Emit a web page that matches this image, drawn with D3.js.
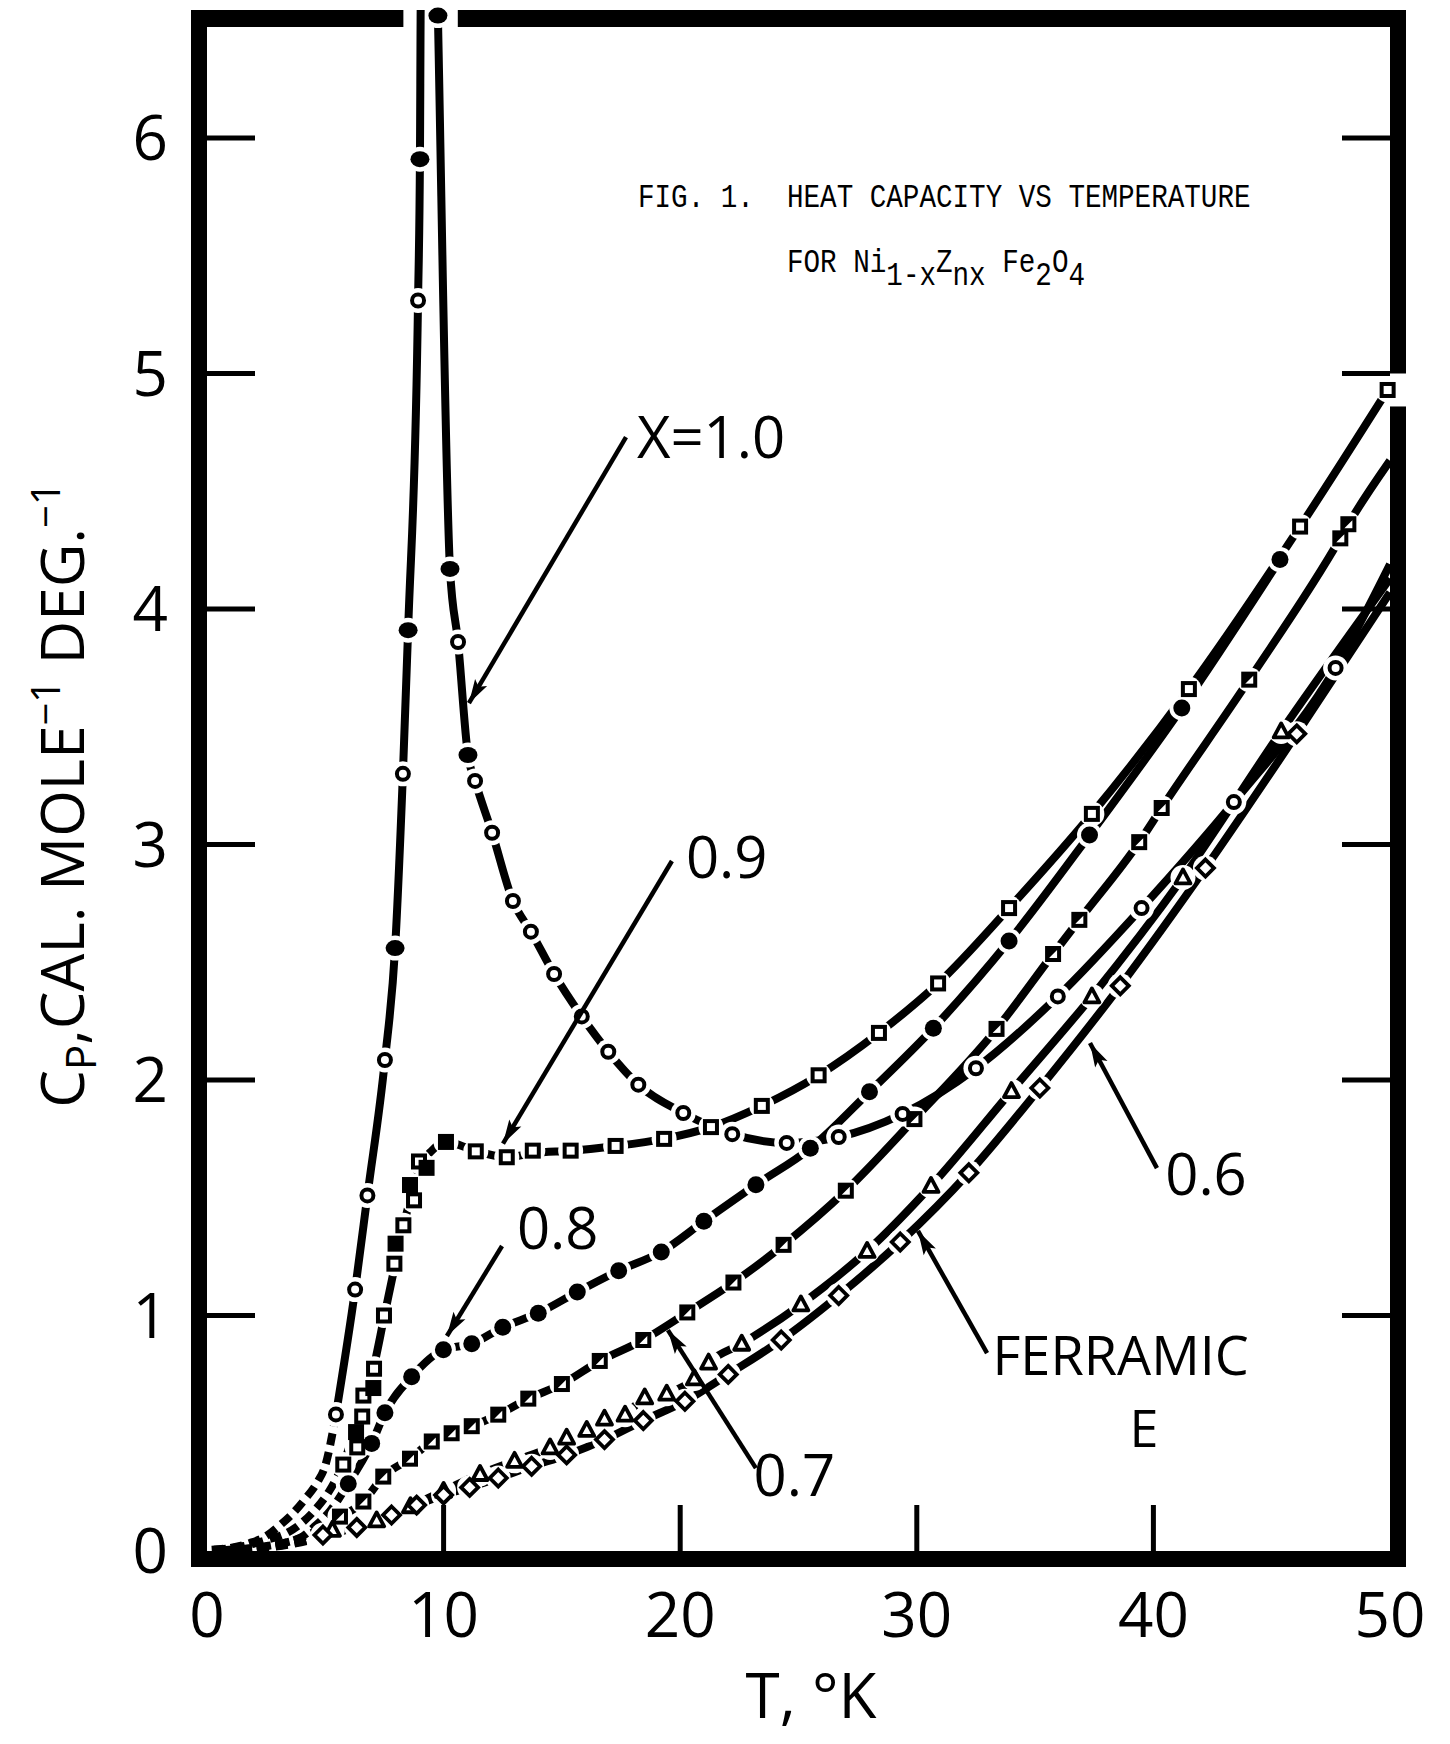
<!DOCTYPE html>
<html>
<head>
<meta charset="utf-8">
<script src="https://cdn.jsdelivr.net/npm/d3@7"></script>
<style>
body { margin: 0; background: #fff; }
svg { display: block; }
</style>
</head>
<body>
<svg width="1450" height="1744"></svg>
<script>
// ---- data (T in K, Cp in cal/mole/deg) ----
// x = 1.0 (circles, 1 = filled)
var x10T  = [5.45, 6.26, 6.78, 7.52, 7.95, 8.28, 8.50, 8.92, 9.00, 9.76, 10.27, 10.61, 11.03, 11.33, 12.05, 12.93, 13.69, 14.67, 15.84, 16.96, 18.23, 20.13, 22.2, 24.5, 26.7, 29.4, 32.5, 35.96, 39.5, 43.4, 47.7];
var x10Cp = [0.58, 1.11, 1.51, 2.085, 2.56, 3.30, 3.91, 5.31, 5.91, 6.52, 4.17, 3.86, 3.38, 3.27, 3.05, 2.76, 2.63, 2.45, 2.27, 2.12, 1.98, 1.86, 1.77, 1.733, 1.758, 1.856, 2.05, 2.355, 2.73, 3.18, 3.75];
var x10Fill = [0, 0, 0, 0, 1, 0, 1, 0, 1, 1, 1, 0, 1, 0, 0, 0, 0, 0, 0, 0, 0, 0, 0, 0, 0, 0, 0, 0, 0, 0, 0];
var x10LineT  = [5.45, 6.26, 6.78, 7.52, 7.95, 8.28, 8.50, 8.92, 9.00, 9.04, 9.74, 9.76, 10.27, 10.61, 11.03, 11.33, 12.05, 12.93, 13.69, 14.67, 15.84, 16.96, 18.23, 20.13, 22.2, 24.5, 26.7, 29.4, 32.5, 35.96, 39.5, 43.4, 47.7, 50];
var x10LineCp = [0.58, 1.11, 1.51, 2.085, 2.56, 3.30, 3.91, 5.31, 5.91, 6.62, 6.62, 6.52, 4.17, 3.86, 3.38, 3.27, 3.05, 2.76, 2.63, 2.45, 2.27, 2.12, 1.98, 1.86, 1.77, 1.733, 1.758, 1.856, 2.05, 2.355, 2.73, 3.18, 3.75, 4.19];
var x10DashT  = [0.2, 0.97, 1.82, 2.45, 3.09, 3.63, 4.14, 4.65, 4.99, 5.45];
var x10DashCp = [0.005, 0.013, 0.034, 0.06, 0.11, 0.16, 0.22, 0.29, 0.36, 0.58];

// x = 0.9 (squares, 1 = filled)
var x09T  = [5.76, 6.30, 6.35, 6.56, 6.61, 7.03, 7.06, 7.48, 7.92, 7.97, 8.30, 8.58, 8.75, 8.96, 9.28, 10.10, 11.36, 12.67, 13.77, 15.37, 17.27, 19.32, 21.3, 23.45, 25.85, 28.4, 30.9, 33.9, 37.4, 41.5, 46.2, 49.9];
var x09Cp = [0.367, 0.505, 0.44, 0.571, 0.66, 0.692, 0.774, 1.00, 1.22, 1.305, 1.383, 1.554, 1.489, 1.654, 1.627, 1.737, 1.697, 1.672, 1.70, 1.70, 1.72, 1.75, 1.80, 1.89, 2.02, 2.20, 2.41, 2.73, 3.13, 3.66, 4.35, 4.93];
var x09Fill = [0, 1, 0, 0, 0, 1, 0, 0, 0, 1, 0, 1, 0, 0, 1, 1, 0, 0, 0, 0, 0, 0, 0, 0, 0, 0, 0, 0, 0, 0, 0, 0];
var x09LineT  = [5.76, 6.4, 7.0, 7.5, 8.0, 8.5, 9.0, 9.5, 10.1, 11.4, 12.7, 13.8, 15.4, 17.3, 19.3, 21.3, 23.45, 25.85, 28.4, 30.9, 33.9, 37.4, 41.5, 46.2, 49.9];
var x09LineCp = [0.367, 0.56, 0.76, 1.0, 1.24, 1.46, 1.63, 1.70, 1.737, 1.697, 1.672, 1.69, 1.70, 1.72, 1.75, 1.80, 1.89, 2.02, 2.20, 2.41, 2.73, 3.13, 3.66, 4.35, 4.93];
var x09DashT  = [0.3, 1.5, 2.52, 3.37, 4.06, 4.56, 5.2, 5.76];
var x09DashCp = [0.005, 0.02, 0.047, 0.076, 0.124, 0.174, 0.26, 0.367];

// x = 0.8 (filled circles)
var x08T  = [5.97, 6.96, 7.52, 8.65, 9.99, 11.19, 12.5, 14.0, 15.65, 17.4, 19.2, 21.0, 23.2, 25.5, 28.0, 30.7, 33.9, 37.3, 41.2, 45.35];
var x08Cp = [0.286, 0.457, 0.587, 0.74, 0.855, 0.88, 0.95, 1.01, 1.10, 1.19, 1.27, 1.40, 1.555, 1.71, 1.95, 2.22, 2.59, 3.04, 3.58, 4.21];
var x08DashT  = [0.6, 1.6, 2.6, 3.4, 3.93, 4.5, 5.2, 5.97];
var x08DashCp = [0.003, 0.01, 0.022, 0.038, 0.055, 0.1, 0.17, 0.286];

// x = 0.7 (half-filled squares)
var x07T  = [5.62, 6.61, 7.45, 8.58, 9.50, 10.34, 11.19, 12.31, 13.58, 15.0, 16.6, 18.44, 20.3, 22.25, 24.37, 27.0, 29.9, 33.37, 35.76, 36.87, 39.4, 40.35, 44.05, 47.9, 48.24];
var x07Cp = [0.146, 0.21, 0.316, 0.392, 0.465, 0.50, 0.53, 0.579, 0.647, 0.709, 0.807, 0.896, 1.013, 1.14, 1.30, 1.53, 1.834, 2.217, 2.535, 2.68, 3.01, 3.155, 3.70, 4.30, 4.36];
var x07EndT = 50, x07EndCp = 4.63;
var x07DashT  = [0.5, 1.5, 2.5, 3.5, 4.5, 5.62];
var x07DashCp = [0.002, 0.007, 0.018, 0.04, 0.08, 0.146];

// x = 0.6 (open triangles)
var x06T  = [5.3, 7.17, 8.6, 10.0, 11.54, 13.0, 14.5, 15.2, 16.05, 16.8, 17.67, 18.5, 19.43, 20.6, 21.2, 22.6, 25.1, 27.9, 30.6, 34.0, 37.4, 41.25, 45.4];
var x06Cp = [0.09, 0.13, 0.19, 0.255, 0.327, 0.383, 0.44, 0.481, 0.514, 0.562, 0.579, 0.652, 0.668, 0.733, 0.80, 0.88, 1.047, 1.274, 1.55, 1.953, 2.355, 2.86, 3.48];
var x06EndT = 50, x06EndCp = 4.13;
var x06DashT  = [0.5, 1.5, 2.5, 3.5, 4.5, 5.3];
var x06DashCp = [0.002, 0.006, 0.015, 0.03, 0.055, 0.09];

// Ferramic E (open diamonds)
var feT  = [4.9, 6.33, 7.8, 8.86, 10.0, 11.1, 12.31, 13.72, 15.2, 16.8, 18.44, 20.2, 22.03, 24.27, 26.7, 29.3, 32.2, 35.2, 38.6, 42.2, 46.06];
var feCp = [0.068, 0.10, 0.153, 0.195, 0.238, 0.27, 0.31, 0.36, 0.408, 0.473, 0.554, 0.636, 0.75, 0.896, 1.085, 1.312, 1.606, 1.966, 2.40, 2.90, 3.47];
var feEndT = 50, feEndCp = 4.07;
var feDashT  = [0.5, 1.5, 2.5, 3.5, 4.3, 4.9];
var feDashCp = [0.002, 0.006, 0.014, 0.028, 0.045, 0.068];

// axis ticks
var xTicks = [0, 10, 20, 30, 40, 50];
var yTicks = [0, 1, 2, 3, 4, 5, 6];

// curve labels and their arrows (data units)
var labelText = ["X=1.0", "0.9", "0.8", "0.6", "0.7"];
var labelT    = [18.17, 20.24, 13.1, 40.5, 23.1];
var labelCp   = [4.64, 2.858, 1.282, 1.51, 0.233];
var arrowFromT  = [17.71, 19.65, 12.47, 40.15, 32.97, 23.2];
var arrowFromCp = [4.73, 2.93, 1.295, 1.626, 0.84, 0.352];
var arrowToT    = [11.07, 12.51, 10.14, 37.32, 30.05, 19.48];
var arrowToCp   = [3.60, 1.73, 0.913, 2.157, 1.359, 0.938];

// ---- layout ----
var svg = d3.select("svg");
var x = d3.scaleLinear().domain([0, 50]).range([207, 1390]);
var y = d3.scaleLinear().domain([0, 6]).range([1551, 138]);

function zip(a, b) { return a.map(function(v, i) { return [v, b[i]]; }); }

var line = d3.line()
	.x(function(d) { return x(d[0]); })
	.y(function(d) { return y(d[1]); })
	.curve(d3.curveMonotoneX);

var series = [
	{ shape: "circle", pts: zip(x10T, x10Cp), fill: x10Fill, line: zip(x10LineT, x10LineCp), dash: zip(x10DashT, x10DashCp) },
	{ shape: "square", pts: zip(x09T, x09Cp), fill: x09Fill, line: zip(x09LineT, x09LineCp), dash: zip(x09DashT, x09DashCp) },
	{ shape: "dot", pts: zip(x08T, x08Cp), fill: null, line: zip(x08T, x08Cp), dash: zip(x08DashT, x08DashCp) },
	{ shape: "half", pts: zip(x07T, x07Cp), fill: null, line: zip(x07T, x07Cp).concat([[x07EndT, x07EndCp]]), dash: zip(x07DashT, x07DashCp) },
	{ shape: "triangle", pts: zip(x06T, x06Cp), fill: null, line: zip(x06T, x06Cp).concat([[x06EndT, x06EndCp]]), dash: zip(x06DashT, x06DashCp) },
	{ shape: "diamond", pts: zip(feT, feCp), fill: null, line: zip(feT, feCp).concat([[feEndT, feEndCp]]), dash: zip(feDashT, feDashCp) }
];

svg.append("clipPath").attr("id", "plot-clip")
	.append("rect").attr("x", 207).attr("y", 10).attr("width", 1183).attr("height", 1541);

var curves = svg.append("g").attr("clip-path", "url(#plot-clip)");

series.forEach(function(s) {
	curves.append("path")
		.attr("d", line(s.line))
		.attr("fill", "none").attr("stroke", "#000")
		.attr("stroke-width", 8).attr("stroke-linecap", "butt");
	curves.append("path")
		.attr("d", line(s.dash))
		.attr("fill", "none").attr("stroke", "#000")
		.attr("stroke-width", 8).attr("stroke-dasharray", "12,7");
});

// white gaps round the markers, then the markers
var halo = svg.append("g");
var marks = svg.append("g");

function drawMark(g, shape, filled, cx, cy) {
	var m = g.append("g").attr("transform", "translate(" + cx + "," + cy + ")");
	if (shape === "circle") {
		if (filled) m.append("ellipse").attr("rx", 9.5).attr("ry", 8).attr("fill", "#000");
		else m.append("circle").attr("r", 6).attr("fill", "#fff").attr("stroke", "#000").attr("stroke-width", 4);
	} else if (shape === "dot") {
		m.append("circle").attr("r", 8.5).attr("fill", "#000");
	} else if (shape === "square") {
		if (filled) m.append("rect").attr("x", -8).attr("y", -8).attr("width", 16).attr("height", 16).attr("fill", "#000");
		else m.append("rect").attr("x", -6).attr("y", -6).attr("width", 12).attr("height", 12)
			.attr("fill", "#fff").attr("stroke", "#000").attr("stroke-width", 4);
	} else if (shape === "half") {
		m.append("rect").attr("x", -6).attr("y", -6).attr("width", 12).attr("height", 12)
			.attr("fill", "#fff").attr("stroke", "#000").attr("stroke-width", 4);
		m.append("path").attr("d", "M-6,-6L6,-6L-6,6Z").attr("fill", "#000");
	} else if (shape === "triangle") {
		m.append("path").attr("d", "M0,-8L7.5,6L-7.5,6Z")
			.attr("fill", "#fff").attr("stroke", "#000").attr("stroke-width", 3.8).attr("stroke-linejoin", "round");
	} else if (shape === "diamond") {
		m.append("path").attr("d", "M0,-8.5L8.5,0L0,8.5L-8.5,0Z")
			.attr("fill", "#fff").attr("stroke", "#000").attr("stroke-width", 3.8);
	}
}

series.forEach(function(s) {
	s.pts.forEach(function(p, i) {
		halo.append("circle").attr("cx", x(p[0])).attr("cy", y(p[1])).attr("r", 12.5).attr("fill", "#fff");
		drawMark(marks, s.shape, s.fill ? s.fill[i] : 1, x(p[0]), y(p[1]));
	});
});

// ---- frame with the two gaps where curves run out ----
var frame = svg.append("g").attr("fill", "#000");
var fw = 16;
frame.append("rect").attr("x", x(0) - fw).attr("y", 10).attr("width", fw).attr("height", y(0) + fw - 10);
frame.append("rect").attr("x", x(0) - fw).attr("y", y(0)).attr("width", x(50) - x(0) + 2 * fw).attr("height", fw);
frame.append("rect").attr("x", x(0) - fw).attr("y", 10).attr("width", x(8.3) - x(0) + fw).attr("height", 17);
frame.append("rect").attr("x", x(10.6)).attr("y", 10).attr("width", x(50) + fw - x(10.6)).attr("height", 17);
frame.append("rect").attr("x", x(50)).attr("y", 10).attr("width", fw).attr("height", y(5.0) - 10);
frame.append("rect").attr("x", x(50)).attr("y", y(4.86)).attr("width", fw).attr("height", y(0) + fw - y(4.86));

var ticks = svg.append("g").attr("stroke", "#000").attr("stroke-width", 5);
yTicks.slice(1).forEach(function(v) {
	ticks.append("line").attr("x1", x(0)).attr("x2", x(0) + 48).attr("y1", y(v)).attr("y2", y(v));
	ticks.append("line").attr("x1", x(50) - 48).attr("x2", x(50)).attr("y1", y(v)).attr("y2", y(v));
});
xTicks.slice(1, -1).forEach(function(v) {
	ticks.append("line").attr("x1", x(v)).attr("x2", x(v)).attr("y1", y(0)).attr("y2", y(0) - 46);
});

var lab = svg.append("g").attr("font-family", "'Open Sans', 'DejaVu Sans', sans-serif").attr("fill", "#000");
yTicks.forEach(function(v) {
	lab.append("text").attr("x", 168).attr("y", y(v) + 22)
		.attr("text-anchor", "end").attr("font-size", 62).text(v);
});
xTicks.forEach(function(v) {
	lab.append("text").attr("x", x(v)).attr("y", 1637)
		.attr("text-anchor", "middle").attr("font-size", 62).text(v);
});

// axis titles
lab.append("text").attr("x", 811).attr("y", 1718).attr("text-anchor", "middle")
	.attr("font-size", 62).text("T, °K");

var yt = lab.append("text").attr("transform", "translate(84,795) rotate(-90)")
	.attr("text-anchor", "middle").attr("font-size", 60);
yt.append("tspan").text("C");
yt.append("tspan").attr("font-size", 42).attr("dy", 12).text("P");
yt.append("tspan").attr("dy", -12).text(",CAL. MOLE");
yt.append("tspan").attr("font-size", 40).attr("dy", -24).text("−1");
yt.append("tspan").attr("dy", 24).text(" DEG.");
yt.append("tspan").attr("font-size", 40).attr("dy", -24).text("−1");

// curve labels and arrows
labelText.forEach(function(t, i) {
	lab.append("text").attr("x", x(labelT[i])).attr("y", y(labelCp[i]))
		.attr("font-size", 58).text(t);
});
lab.append("text").attr("x", x(33.2)).attr("y", y(0.747)).attr("font-size", 54).text("FERRAMIC");
lab.append("text").attr("x", x(39.6)).attr("y", y(0.44)).attr("text-anchor", "middle").attr("font-size", 52).text("E");

var arrows = svg.append("g");
arrowFromT.forEach(function(t, i) {
	var x1 = x(t), y1 = y(arrowFromCp[i]), x2 = x(arrowToT[i]), y2 = y(arrowToCp[i]);
	var a = Math.atan2(y2 - y1, x2 - x1) * 180 / Math.PI;
	arrows.append("line").attr("x1", x1).attr("y1", y1).attr("x2", x2).attr("y2", y2)
		.attr("stroke", "#000").attr("stroke-width", 4.5);
	arrows.append("path").attr("d", "M0,0L-24,-7L-19,0L-24,7Z").attr("fill", "#000")
		.attr("transform", "translate(" + x2 + "," + y2 + ") rotate(" + a + ")");
});

// typed caption: monospace at typewriter pitch, stretched a little upward
var cap = svg.append("g").attr("font-family", "'Liberation Mono', 'DejaVu Sans Mono', monospace")
	.attr("fill", "#000").attr("font-size", 27.6);
cap.append("g").attr("transform", "translate(638,207) scale(1,1.2)")
	.append("text").text("FIG. 1.\u00a0\u00a0HEAT CAPACITY VS TEMPERATURE");
var c2 = cap.append("g").attr("transform", "translate(787,272) scale(1,1.2)")
	.append("text");
c2.append("tspan").text("FOR Ni");
c2.append("tspan").attr("dy", 11).text("1-x");
c2.append("tspan").attr("dy", -11).text("Z");
c2.append("tspan").attr("dy", 11).text("nx");
c2.append("tspan").attr("dy", -11).text("\u00a0Fe");
c2.append("tspan").attr("dy", 11).text("2");
c2.append("tspan").attr("dy", -11).text("O");
c2.append("tspan").attr("dy", 11).text("4");
</script>
</body>
</html>
